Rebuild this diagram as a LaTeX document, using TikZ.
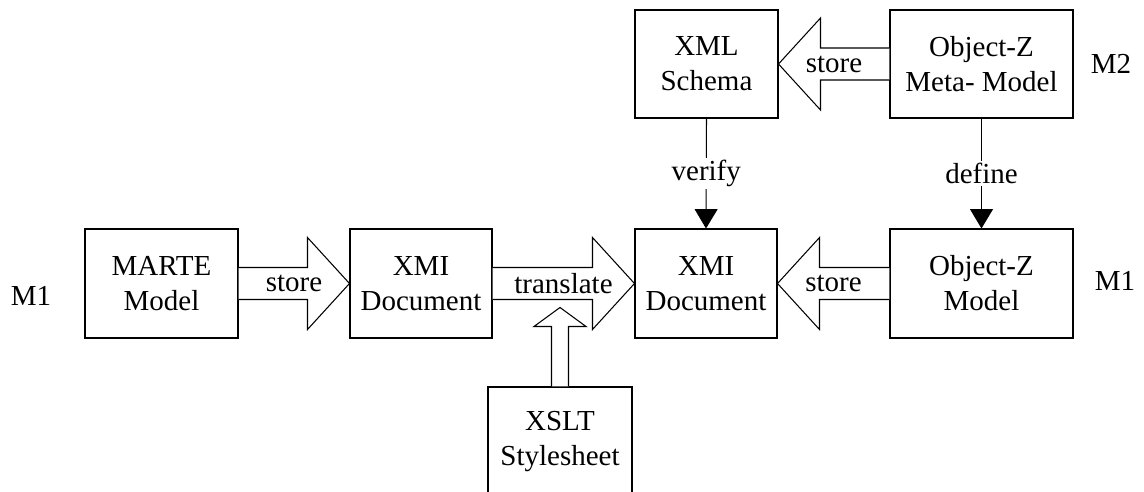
\documentclass[tikz,border=0pt]{standalone}
\usepackage{fontspec}
\setmainfont{Liberation Serif}
\usetikzlibrary{calc,arrows.meta}

\tikzset{
  block/.style={rectangle, draw, align=center, minimum height=2.18cm, inner sep=2pt},
  fatarrow/.style={draw, fill=white},
  tag/.style={inner sep=1pt},
}

% wide arrow between two points on one line: from, to, direction (1 right, -1 left)
\newcommand{\widearrow}[3]{%
  \draw[fatarrow] ($(#1)+(0,-16)$) -- ($(#2)+({-42*(#3)},-16)$) -- ($(#2)+({-42*(#3)},-46)$) -- (#2)
    -- ($(#2)+({-42*(#3)},46)$) -- ($(#2)+({-42*(#3)},16)$) -- ($(#1)+(0,16)$);}

\begin{document}
\begin{tikzpicture}[x=0.02cm, y=-0.02cm, line width=0.6pt, font=\fontsize{16.5}{20}\selectfont]
    \clip (0,0) rectangle (1144,491);

    % Nodes
    \node (marte) [block, minimum width=3.06cm] at (161.5,283.5) {MARTE\\Model};
    \node (xmione) [block, minimum width=2.84cm] at (421,283.5) {XMI\\Document};
    \node (xmitwo) [block, minimum width=2.84cm] at (706,283.5) {XMI\\Document};
    \node (ozmodel) [block, minimum width=3.66cm] at (981.5,283.5) {Object-Z\\Model};
    \node (schema) [block, minimum width=2.86cm, minimum height=2.16cm] at (706.5,64) {XML\\Schema};
    \node (ozmeta) [block, minimum width=3.66cm, minimum height=2.16cm] at (981.5,64) {Object-Z\\Meta- Model};
    \node (xslt) [block, minimum width=2.88cm] at (560,441.5) {XSLT\\Stylesheet};

    \node (mleft) [tag] at (31,296) {M1};
    \node (mright) [tag] at (1115,281) {M1};
    \node (mtop) [tag] at (1111,64) {M2};

    % Arrows
    \widearrow{marte.east}{xmione.west}{1}
    \node[tag] at ($(marte.east)!0.5!(xmione.west)$) {store};
    \widearrow{xmione.east}{xmitwo.west}{1}
    \node[tag] at ($(xmione.east)!0.5!(xmitwo.west)$) {translate};
    \widearrow{ozmodel.west}{xmitwo.east}{-1}
    \node[tag] at ($(ozmodel.west)!0.5!(xmitwo.east)$) {store};
    \widearrow{ozmeta.west}{schema.east}{-1}
    \node[tag] at ($(ozmeta.west)!0.5!(schema.east)$) {store};

    \coordinate (xsltend) at ($(xslt.north)+(0,-79)$);
    \draw[fatarrow] ($(xslt.north)+(-8.5,0)$) -- ($(xsltend)+(-8.5,19)$) -- ($(xsltend)+(-26,19)$) -- (xsltend)
        -- ($(xsltend)+(26,19)$) -- ($(xsltend)+(8.5,19)$) -- ($(xslt.north)+(8.5,0)$);

    \draw[-{Triangle[width=13pt,length=11pt]}] (schema.south) -- node[fill=white, tag] {verify} (xmitwo.north);
    \draw[-{Triangle[width=13pt,length=11pt]}] (ozmeta.south) -- node[fill=white, tag] {define} (ozmodel.north);
\end{tikzpicture}
\end{document}
